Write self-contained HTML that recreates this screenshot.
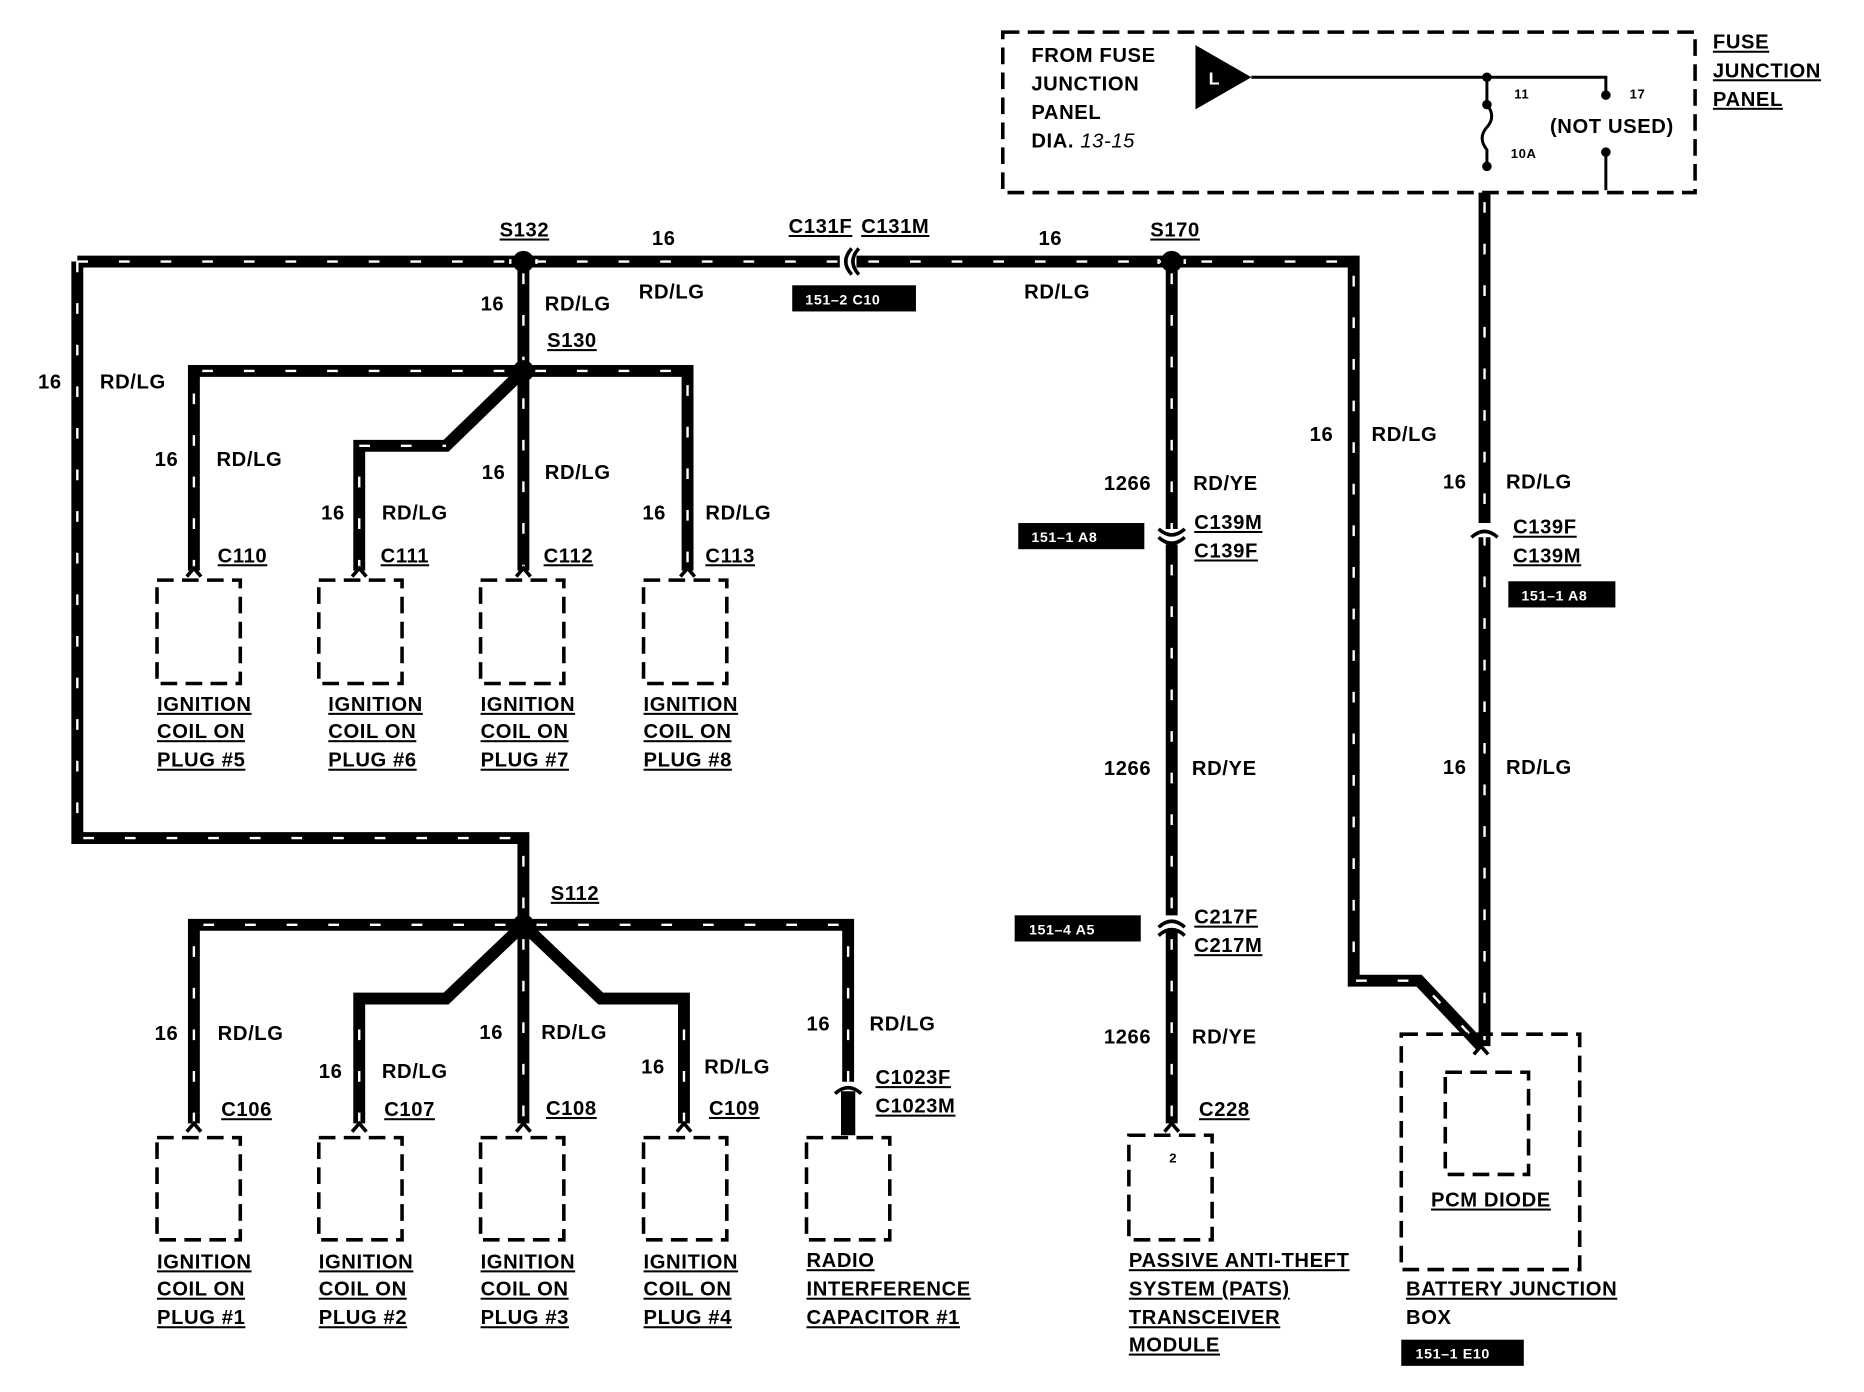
<!DOCTYPE html>
<html><head><meta charset="utf-8"><style>
html,body{margin:0;padding:0;background:#fff;}
svg{display:block}
text{font-family:"Liberation Sans",sans-serif;font-weight:bold;font-size:17px;fill:#000;letter-spacing:0.5px}
.u{text-decoration:underline}
</style></head><body>
<svg width="1864" height="1392" viewBox="0 0 1567 1171" preserveAspectRatio="none" xmlns="http://www.w3.org/2000/svg">
<g fill="none" stroke-linejoin="miter">
<g stroke="#000" stroke-width="10">
<path d="M65,220 H1138 V825 H1193 L1245,880"/>
<path d="M65,220 V705 H440 V778"/>
<path d="M440,220 V480"/>
<path d="M163,480 V312 H578 V480"/>
<path d="M440,312 L375,375 H302 V480"/>
<path d="M163,945 V778 H713 V915"/>
<path d="M440,778 V945"/>
<path d="M440,778 L375,840 H302 V945"/>
<path d="M440,778 L505,840 H575 V945"/>
<path d="M985,220 V945"/>
<path d="M1248,162 V880"/>
<path d="M713,915 V955" stroke-width="12"/>
</g>
<g stroke="#fff" stroke-width="2" stroke-dasharray="9,26">
<path d="M65,220 H1138 V825 H1193 L1245,880"/>
<path d="M65,220 V705 H440 V778"/>
<path d="M440,230 V480"/>
<path d="M163,480 V312 H578 V480"/>
<path d="M302,480 V375 H375"/>
<path d="M163,945 V778 H713 V910"/>
<path d="M440,790 V945"/>
<path d="M302,945 V840"/>
<path d="M575,945 V840"/>
<path d="M985,230 V945"/>
<path d="M1248,170 V875"/>
</g>
<g stroke="#fff" stroke-width="14">
<path d="M706,220 H720 M985,445 V458 M985,770 V783 M1248,440 V452 M713,910 V918"/>
</g>
<g stroke="#fff" stroke-width="4">
<path d="M428,220 H430 M450,220 H452 M973,220 H975 M995,220 H997"/>
</g>
<g stroke="#000" stroke-width="3">
<path d="M716,209 Q706,220 716,231 M722,209 Q712,220 722,231"/>
<path d="M974,452 Q985,462 996,452 M974,445 Q985,455 996,445"/>
<path d="M974,780 Q985,770 996,780 M974,787 Q985,777 996,787"/>
<path d="M1237,452 Q1248,442 1259,452"/>
<path d="M702,920 Q713,910 724,920"/>
<path d="M157,485 L163,478 L169,485 M296,485 L302,478 L308,485 M434,485 L440,478 L446,485 M572,485 L578,478 L584,485"/>
<path d="M157,952 L163,945 L169,952 M296,952 L302,945 L308,952 M434,952 L440,945 L446,952 M569,952 L575,945 L581,952 M979,952 L985,945 L991,952 M1239,887 L1245,880 L1251,887"/>
</g>
<g stroke="#000" stroke-width="3" stroke-dasharray="14,7">
<rect x="132" y="488" width="70" height="87"/><rect x="268" y="488" width="70" height="87"/>
<rect x="404" y="488" width="70" height="87"/><rect x="541" y="488" width="70" height="87"/>
<rect x="132" y="957" width="70" height="86"/><rect x="268" y="957" width="70" height="86"/>
<rect x="404" y="957" width="70" height="86"/><rect x="541" y="957" width="70" height="86"/>
<rect x="678" y="957" width="70" height="86"/><rect x="949" y="955" width="70" height="88"/>
<rect x="1178" y="870" width="150" height="198"/><rect x="1215" y="902" width="70" height="86"/>
<rect x="843" y="27" width="582" height="135"/>
</g>
<g stroke="#000" stroke-width="2.5">
<path d="M1052,65 H1350 V80"/>
<path d="M1250,65 V88 Q1258,98 1250,107 Q1242,116 1250,126 V140"/>
<path d="M1350,128 V160"/>
</g>
</g>
<polygon points="1005,38 1052,65 1005,92" fill="#000"/>
<text x="1016" y="71" style="fill:#fff;font-size:15px">L</text>
<g fill="#000">
<circle cx="440" cy="220" r="9"/><circle cx="985" cy="220" r="9"/><circle cx="440" cy="312" r="9"/><circle cx="440" cy="778" r="9"/>
<circle cx="1250" cy="65" r="4"/><circle cx="1350" cy="80" r="4"/><circle cx="1250" cy="88" r="4"/><circle cx="1250" cy="140" r="4"/><circle cx="1350" cy="128" r="4"/>
<rect x="666" y="240" width="104" height="22"/><rect x="856" y="440" width="106" height="22"/><rect x="1268" y="489" width="90" height="22"/><rect x="853" y="770" width="106" height="22"/><rect x="1178" y="1127" width="103" height="22"/>
</g>
<text x="677" y="256" style="fill:#fff;font-size:12px">151–2 C10</text>
<text x="867" y="456" style="fill:#fff;font-size:12px">151–1 A8</text>
<text x="1279" y="505" style="fill:#fff;font-size:12px">151–1 A8</text>
<text x="865" y="786" style="fill:#fff;font-size:12px">151–4 A5</text>
<text x="1190" y="1143" style="fill:#fff;font-size:12px">151–1 E10</text>
<text x="867" y="52">FROM FUSE</text><text x="867" y="76">JUNCTION</text><text x="867" y="100">PANEL</text>
<text x="867" y="124">DIA. <tspan font-style="italic" font-weight="normal">13-15</tspan></text>
<text x="1273" y="83" style="font-size:11px">11</text><text x="1370" y="83" style="font-size:11px">17</text><text x="1270" y="133" style="font-size:11px">10A</text>
<text x="1303" y="112">(NOT USED)</text>
<text x="1440" y="41" class="u">FUSE</text><text x="1440" y="65" class="u">JUNCTION</text><text x="1440" y="89" class="u">PANEL</text>
<text x="420" y="199" class="u">S132</text><text x="548" y="206">16</text>
<text x="663" y="196" class="u">C131F</text><text x="724" y="196" class="u">C131M</text>
<text x="873" y="206">16</text><text x="967" y="199" class="u">S170</text>
<text x="404" y="261">16</text><text x="458" y="261">RD/LG</text><text x="537" y="251">RD/LG</text><text x="861" y="251">RD/LG</text>
<text x="460" y="292" class="u">S130</text>
<text x="32" y="327">16</text><text x="84" y="327">RD/LG</text>
<text x="130" y="392">16</text><text x="182" y="392">RD/LG</text>
<text x="270" y="437">16</text><text x="321" y="437">RD/LG</text>
<text x="405" y="403">16</text><text x="458" y="403">RD/LG</text>
<text x="540" y="437">16</text><text x="593" y="437">RD/LG</text>
<text x="183" y="473" class="u">C110</text><text x="320" y="473" class="u">C111</text><text x="457" y="473" class="u">C112</text><text x="593" y="473" class="u">C113</text>
<text x="132" y="598" class="u">IGNITION</text><text x="132" y="621" class="u">COIL ON</text><text x="132" y="645" class="u">PLUG  #5</text>
<text x="276" y="598" class="u">IGNITION</text><text x="276" y="621" class="u">COIL ON</text><text x="276" y="645" class="u">PLUG #6</text>
<text x="404" y="598" class="u">IGNITION</text><text x="404" y="621" class="u">COIL ON</text><text x="404" y="645" class="u">PLUG #7</text>
<text x="541" y="598" class="u">IGNITION</text><text x="541" y="621" class="u">COIL ON</text><text x="541" y="645" class="u">PLUG #8</text>
<text x="132" y="1067" class="u">IGNITION</text><text x="132" y="1090" class="u">COIL ON</text><text x="132" y="1114" class="u">PLUG #1</text>
<text x="268" y="1067" class="u">IGNITION</text><text x="268" y="1090" class="u">COIL ON</text><text x="268" y="1114" class="u">PLUG #2</text>
<text x="404" y="1067" class="u">IGNITION</text><text x="404" y="1090" class="u">COIL ON</text><text x="404" y="1114" class="u">PLUG #3</text>
<text x="541" y="1067" class="u">IGNITION</text><text x="541" y="1090" class="u">COIL ON</text><text x="541" y="1114" class="u">PLUG #4</text>
<text x="678" y="1066" class="u">RADIO</text><text x="678" y="1090" class="u">INTERFERENCE</text><text x="678" y="1114" class="u">CAPACITOR #1</text>
<text x="949" y="1066" class="u">PASSIVE ANTI-THEFT</text><text x="949" y="1090" class="u">SYSTEM (PATS)</text><text x="949" y="1114" class="u">TRANSCEIVER</text><text x="949" y="1137" class="u">MODULE</text>
<text x="1182" y="1090" class="u">BATTERY JUNCTION</text><text x="1182" y="1114">BOX</text>
<text x="1203" y="1015" class="u">PCM DIODE</text>
<text x="463" y="757" class="u">S112</text>
<text x="130" y="875">16</text><text x="183" y="875">RD/LG</text>
<text x="268" y="907">16</text><text x="321" y="907">RD/LG</text>
<text x="403" y="874">16</text><text x="455" y="874">RD/LG</text>
<text x="539" y="903">16</text><text x="592" y="903">RD/LG</text>
<text x="678" y="867">16</text><text x="731" y="867">RD/LG</text>
<text x="186" y="939" class="u">C106</text><text x="323" y="939" class="u">C107</text><text x="459" y="938" class="u">C108</text><text x="596" y="938" class="u">C109</text>
<text x="736" y="912" class="u">C1023F</text><text x="736" y="936" class="u">C1023M</text>
<text x="928" y="412">1266</text><text x="1003" y="412">RD/YE</text>
<text x="1004" y="445" class="u">C139M</text><text x="1004" y="469" class="u">C139F</text>
<text x="928" y="652">1266</text><text x="1002" y="652">RD/YE</text>
<text x="1004" y="777" class="u">C217F</text><text x="1004" y="801" class="u">C217M</text>
<text x="928" y="878">1266</text><text x="1002" y="878">RD/YE</text>
<text x="1008" y="939" class="u">C228</text><text x="983" y="978" style="font-size:11px">2</text>
<text x="1101" y="371">16</text><text x="1153" y="371">RD/LG</text>
<text x="1213" y="411">16</text><text x="1266" y="411">RD/LG</text>
<text x="1272" y="449" class="u">C139F</text><text x="1272" y="473" class="u">C139M</text>
<text x="1213" y="651">16</text><text x="1266" y="651">RD/LG</text>
</svg>
</body></html>
